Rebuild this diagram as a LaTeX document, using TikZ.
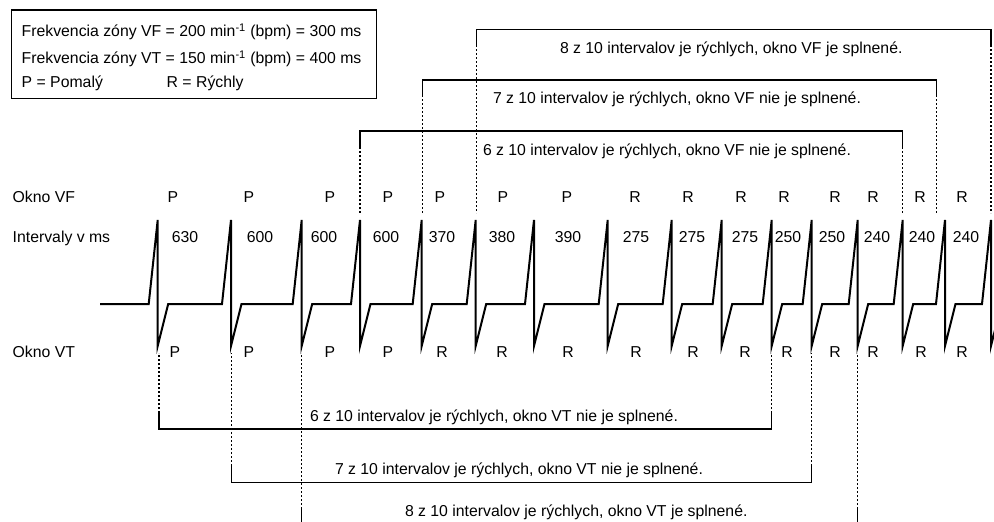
\documentclass[tikz,border=0pt]{standalone}
\usepackage{fontspec}
\setmainfont{Liberation Sans}
\begin{document}
\begin{tikzpicture}[x=1pt,y=-1pt,
  txt/.style={font=\fontsize{15.8}{18}\selectfont, inner sep=0pt, outer sep=0pt},
  lab/.style={txt, anchor=base},
  lft/.style={txt, anchor=base west},
  ecg/.style={line width=2pt},
  brk/.style={line width=1.2pt},
  dots/.style={line width=1.3pt, dash pattern=on 2pt off 2pt}]
\useasboundingbox (0,0) rectangle (994,522);
\begin{scope}
\clip (0,0) rectangle (994,522);
% legend
\draw[brk] (11.7,10) rectangle (376.7,98.3);
\node[lft] (l1) at (21.7,36.7) {Frekvencia zóny VF = 200 min\textsuperscript{-1} (bpm) = 300 ms};
\node[lft] (l2) at (21.7,63.3) {Frekvencia zóny VT = 150 min\textsuperscript{-1} (bpm) = 400 ms};
\node[lft] (l3) at (21.7,87.3) {P = Pomalý};
\node[lft] (l4) at (166.7,87.3) {R = Rýchly};
% row titles
\node[lft] (okvf) at (12.7,202.3) {Okno VF};
\node[lft] (intv) at (12.7,242.7) {Intervaly v ms};
\node[lft] (okvt) at (12.7,357) {Okno VT};
% ECG
\draw[ecg] (100,304)
  foreach \s in {157.7,231,301.7,360,421.7,475.7,534,607.7,671.7,721.7,771.7,811.7,857.7,902.7,945,991}
  { -- (\s-9,304) -- (\s,220) -- (\s,346) -- (\s+10.5,304) };
% labels
\foreach \x/\t [count=\i] in {173/P,249/P,330/P,388/P,440/P,503/P,567/P,635/R,688/R,741/R,784/R,835/R,873/R,920/R,962/R}
  \node[lab] (vf\i) at (\x,202.3) {\t};
\foreach \x/\t [count=\i] in {185/630,260/600,324/600,386/600,442/370,502/380,568/390,636/275,692/275,745/275,788/250,832/250,877/240,922/240,966/240}
  \node[lab] (iv\i) at (\x,242.7) {\t};
\foreach \x/\t [count=\i] in {175/P,249/P,330/P,388/P,442/R,502/R,568/R,636/R,693/R,745/R,787/R,835/R,873/R,921/R,962/R}
  \node[lab] (vt\i) at (\x,357) {\t};
% top brackets (VF)
\foreach \l/\r/\top/\sol in {476.7/991/29.3/45, 422.3/936.7/80/95, 360/902.3/131/147}{
  \draw[brk] (\l,\sol) -- (\l,\top) -- (\r,\top) -- (\r,\sol);
  \draw[dots] (\l,\sol) -- (\l,213);
  \draw[dots] (\r,\sol) -- (\r,213);
}
\node[lft] (t8) at (560,53.3) {8 z 10 intervalov je rýchlych, okno VF je splnené.};
\node[lft] (t7) at (493,103.3) {7 z 10 intervalov je rýchlych, okno VF nie je splnené.};
\node[lft] (t6) at (483,155) {6 z 10 intervalov je rýchlych, okno VF nie je splnené.};
% bottom brackets (VT)
\foreach \l/\r/\bot/\sol in {159/771.7/429/413, 231.7/811.7/482.5/466, 301.7/857.3/527/509}{
  \draw[brk] (\l,\sol) -- (\l,\bot) -- (\r,\bot) -- (\r,\sol);
  \draw[dots] (\l,\sol) -- (\l,353);
  \draw[dots] (\r,\sol) -- (\r,353);
}
\node[lft] (b6) at (310,421.7) {6 z 10 intervalov je rýchlych, okno VT nie je splnené.};
\node[lft] (b7) at (335,474) {7 z 10 intervalov je rýchlych, okno VT nie je splnené.};
\node[lft] (b8) at (405,516.7) {8 z 10 intervalov je rýchlych, okno VT je splnené.};
\end{scope}
\end{tikzpicture}
\end{document}
